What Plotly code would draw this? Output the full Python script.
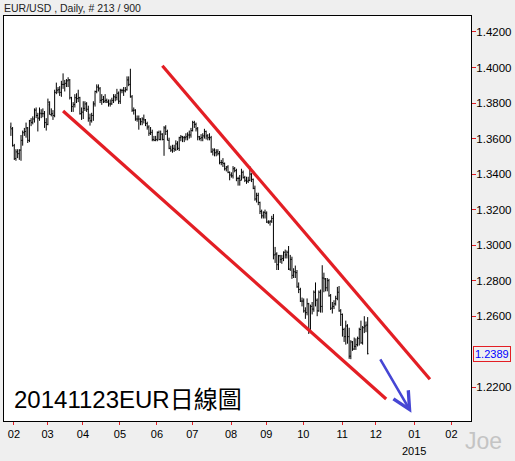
import numpy as np
import pandas as pd
import plotly.graph_objects as go

# ---------------- data ----------------
FIRST_DAY = "2014-01-29"
LAST_DAY = "2014-11-21"

opens = [
    1.3665, 1.3655, 1.3560,
    1.3488, 1.3525, 1.3515, 1.3535, 1.3590, 1.3632, 1.3640, 1.3660, 1.3590, 1.3700,
    1.3692, 1.3710, 1.3760, 1.3730, 1.3715, 1.3740, 1.3740, 1.3740, 1.3690, 1.3680,
    1.3790, 1.3735, 1.3740, 1.3730, 1.3860, 1.3872, 1.3875, 1.3860, 1.3905, 1.3905,
    1.3912, 1.3925, 1.3930, 1.3830, 1.3780, 1.3792, 1.3830, 1.3825, 1.3830, 1.3740, 1.3748,
    1.3770, 1.3795, 1.3765, 1.3715, 1.3702, 1.3730, 1.3795, 1.3865, 1.3890, 1.3880, 1.3815,
    1.3820, 1.3810, 1.3815, 1.3808, 1.3795, 1.3795, 1.3815, 1.3835, 1.3832, 1.3855, 1.3810,
    1.3870, 1.3870, 1.3868, 1.3875, 1.3930, 1.3905, 1.3835, 1.3758, 1.3760, 1.3710, 1.3710,
    1.3710, 1.3695, 1.3710, 1.3705, 1.3685, 1.3665, 1.3630, 1.3635, 1.3595, 1.3590, 1.3595,
    1.3635, 1.3595, 1.3625, 1.3595, 1.3660, 1.3640, 1.3590, 1.3545, 1.3535, 1.3545, 1.3540,
    1.3570, 1.3545, 1.3605, 1.3610, 1.3605, 1.3605, 1.3610, 1.3620, 1.3620, 1.3645,
    1.3690, 1.3680, 1.3655, 1.3610, 1.3600, 1.3605, 1.3615, 1.3640, 1.3615, 1.3605, 1.3605,
    1.3525, 1.3535, 1.3520, 1.3525, 1.3515, 1.3465, 1.3465, 1.3460, 1.3430, 1.3440, 1.3410, 1.3395,
    1.3390, 1.3430, 1.3420, 1.3375, 1.3375, 1.3365, 1.3410, 1.3380, 1.3365, 1.3360, 1.3365,
    1.3400, 1.3370, 1.3320, 1.3260, 1.3280, 1.3240, 1.3190, 1.3165, 1.3185, 1.3180,
    1.3130, 1.3130, 1.3135, 1.3150, 1.2945, 1.2950, 1.2890, 1.2940, 1.2920, 1.2925, 1.2960,
    1.2945, 1.2960, 1.2865, 1.2920, 1.2830, 1.2850, 1.2845, 1.2765, 1.2750, 1.2685, 1.2685,
    1.2630, 1.2620, 1.2670, 1.2515, 1.2655, 1.2640, 1.2735, 1.2690, 1.2630, 1.2735, 1.2655,
    1.2815, 1.2810, 1.2760, 1.2800, 1.2715, 1.2645, 1.2655, 1.2670, 1.2700, 1.2735, 1.2630, 1.2610,
    1.2525, 1.2485, 1.2545, 1.2485, 1.2375, 1.2455, 1.2415, 1.2430, 1.2440, 1.2475,
    1.2525, 1.2450, 1.2535, 1.2545, 1.2550,
]
highs = [
    1.3690, 1.3665, 1.3570,
    1.3540, 1.3540, 1.3540, 1.3620, 1.3645, 1.3660, 1.3690, 1.3665, 1.3705, 1.3715,
    1.3725, 1.3770, 1.3775, 1.3745, 1.3775, 1.3765, 1.3770, 1.3755, 1.3715, 1.3825,
    1.3810, 1.3770, 1.3760, 1.3875, 1.3915, 1.3890, 1.3895, 1.3925, 1.3967, 1.3930,
    1.3935, 1.3945, 1.3935, 1.3835, 1.3805, 1.3850, 1.3855, 1.3875, 1.3835, 1.3775, 1.3810,
    1.3810, 1.3805, 1.3785, 1.3740, 1.3745, 1.3810, 1.3870, 1.3905, 1.3905, 1.3890, 1.3850,
    1.3840, 1.3850, 1.3825, 1.3820, 1.3820, 1.3830, 1.3850, 1.3850, 1.3880, 1.3865, 1.3880,
    1.3880, 1.3890, 1.3890, 1.3950, 1.3950, 1.3993, 1.3845, 1.3775, 1.3765, 1.3730, 1.3730,
    1.3715, 1.3720, 1.3735, 1.3710, 1.3695, 1.3675, 1.3665, 1.3650, 1.3615, 1.3615, 1.3640,
    1.3645, 1.3645, 1.3630, 1.3670, 1.3675, 1.3650, 1.3605, 1.3560, 1.3565, 1.3565,
    1.3590, 1.3585, 1.3610, 1.3620, 1.3615, 1.3615, 1.3630, 1.3635, 1.3645, 1.3660, 1.3700,
    1.3700, 1.3690, 1.3665, 1.3615, 1.3625, 1.3630, 1.3655, 1.3645, 1.3625, 1.3630,
    1.3615, 1.3545, 1.3545, 1.3540, 1.3540, 1.3530, 1.3480, 1.3490, 1.3465, 1.3445, 1.3450, 1.3415, 1.3410,
    1.3445, 1.3440, 1.3430, 1.3385, 1.3395, 1.3430, 1.3420, 1.3390, 1.3385, 1.3385,
    1.3445, 1.3405, 1.3375, 1.3335, 1.3295, 1.3295, 1.3245, 1.3200, 1.3190, 1.3200, 1.3190,
    1.3140, 1.3140, 1.3165, 1.3175, 1.2990, 1.2960, 1.2945, 1.2945, 1.2945, 1.2965,
    1.2975, 1.2970, 1.2995, 1.2945, 1.2935, 1.2870, 1.2885, 1.2860, 1.2790, 1.2760, 1.2705, 1.2700,
    1.2650, 1.2700, 1.2675, 1.2665, 1.2680, 1.2745, 1.2790, 1.2700, 1.2745, 1.2750,
    1.2887, 1.2845, 1.2815, 1.2815, 1.2810, 1.2725, 1.2680, 1.2690, 1.2715, 1.2765, 1.2770, 1.2640, 1.2615,
    1.2535, 1.2575, 1.2555, 1.2535, 1.2465, 1.2460, 1.2480, 1.2475, 1.2485, 1.2535,
    1.2575, 1.2545, 1.2600, 1.2570, 1.2595,
]
lows = [
    1.3615, 1.3555, 1.3480,
    1.3475, 1.3490, 1.3480, 1.3475, 1.3560, 1.3615, 1.3605, 1.3575, 1.3580, 1.3670,
    1.3680, 1.3690, 1.3715, 1.3640, 1.3700, 1.3715, 1.3720, 1.3660, 1.3645, 1.3675,
    1.3735, 1.3725, 1.3705, 1.3720, 1.3850, 1.3855, 1.3840, 1.3835, 1.3880, 1.3865,
    1.3890, 1.3890, 1.3820, 1.3750, 1.3750, 1.3775, 1.3800, 1.3805, 1.3735, 1.3705, 1.3710,
    1.3755, 1.3750, 1.3695, 1.3673, 1.3690, 1.3700, 1.3780, 1.3855, 1.3865, 1.3800, 1.3790,
    1.3800, 1.3800, 1.3800, 1.3780, 1.3780, 1.3790, 1.3800, 1.3810, 1.3815, 1.3795, 1.3795,
    1.3855, 1.3840, 1.3860, 1.3870, 1.3895, 1.3830, 1.3750, 1.3735, 1.3700, 1.3695, 1.3650,
    1.3675, 1.3675, 1.3685, 1.3670, 1.3650, 1.3615, 1.3620, 1.3585, 1.3585, 1.3585, 1.3585,
    1.3590, 1.3590, 1.3590, 1.3503, 1.3620, 1.3590, 1.3540, 1.3525, 1.3520, 1.3525,
    1.3530, 1.3535, 1.3530, 1.3585, 1.3580, 1.3580, 1.3590, 1.3590, 1.3600, 1.3605, 1.3640,
    1.3660, 1.3640, 1.3590, 1.3590, 1.3585, 1.3585, 1.3600, 1.3595, 1.3590, 1.3590,
    1.3520, 1.3505, 1.3500, 1.3500, 1.3505, 1.3455, 1.3450, 1.3440, 1.3420, 1.3415, 1.3405, 1.3365, 1.3380,
    1.3375, 1.3410, 1.3360, 1.3335, 1.3335, 1.3365, 1.3375, 1.3355, 1.3345, 1.3350,
    1.3360, 1.3355, 1.3315, 1.3250, 1.3240, 1.3225, 1.3175, 1.3150, 1.3150, 1.3150, 1.3125,
    1.3120, 1.3110, 1.3125, 1.2920, 1.2900, 1.2860, 1.2860, 1.2900, 1.2895, 1.2910,
    1.2925, 1.2925, 1.2860, 1.2855, 1.2810, 1.2815, 1.2815, 1.2760, 1.2730, 1.2680, 1.2655, 1.2620,
    1.2585, 1.2605, 1.2500, 1.2505, 1.2610, 1.2625, 1.2655, 1.2600, 1.2625, 1.2620,
    1.2620, 1.2735, 1.2740, 1.2740, 1.2710, 1.2635, 1.2615, 1.2640, 1.2660, 1.2690, 1.2625, 1.2545, 1.2485,
    1.2455, 1.2440, 1.2445, 1.2360, 1.2358, 1.2405, 1.2410, 1.2410, 1.2430, 1.2435,
    1.2445, 1.2440, 1.2505, 1.2510, 1.2385,
]
closes = [
    1.3655, 1.3560, 1.3485,
    1.3525, 1.3515, 1.3535, 1.3590, 1.3635, 1.3640, 1.3660, 1.3590, 1.3700, 1.3690,
    1.3710, 1.3760, 1.3730, 1.3715, 1.3745, 1.3740, 1.3740, 1.3690, 1.3680, 1.3805,
    1.3735, 1.3740, 1.3730, 1.3860, 1.3875, 1.3875, 1.3860, 1.3905, 1.3905, 1.3910,
    1.3925, 1.3930, 1.3830, 1.3780, 1.3790, 1.3830, 1.3825, 1.3830, 1.3740, 1.3750, 1.3770,
    1.3795, 1.3765, 1.3715, 1.3700, 1.3730, 1.3795, 1.3865, 1.3890, 1.3885, 1.3815, 1.3820,
    1.3810, 1.3815, 1.3805, 1.3795, 1.3795, 1.3815, 1.3835, 1.3830, 1.3855, 1.3810, 1.3870,
    1.3870, 1.3870, 1.3875, 1.3930, 1.3905, 1.3835, 1.3760, 1.3760, 1.3710, 1.3710, 1.3710,
    1.3695, 1.3710, 1.3705, 1.3685, 1.3665, 1.3630, 1.3635, 1.3595, 1.3590, 1.3595, 1.3635,
    1.3595, 1.3625, 1.3595, 1.3660, 1.3640, 1.3590, 1.3545, 1.3535, 1.3545, 1.3540,
    1.3570, 1.3545, 1.3605, 1.3610, 1.3605, 1.3605, 1.3610, 1.3620, 1.3620, 1.3645, 1.3690,
    1.3680, 1.3655, 1.3610, 1.3600, 1.3605, 1.3615, 1.3640, 1.3615, 1.3605, 1.3605,
    1.3525, 1.3535, 1.3520, 1.3525, 1.3515, 1.3465, 1.3465, 1.3460, 1.3430, 1.3440, 1.3410, 1.3395, 1.3390,
    1.3430, 1.3420, 1.3375, 1.3375, 1.3365, 1.3410, 1.3380, 1.3365, 1.3360, 1.3365,
    1.3400, 1.3370, 1.3320, 1.3260, 1.3280, 1.3240, 1.3190, 1.3165, 1.3185, 1.3180, 1.3130,
    1.3130, 1.3135, 1.3150, 1.2945, 1.2950, 1.2890, 1.2940, 1.2920, 1.2925, 1.2960,
    1.2945, 1.2960, 1.2865, 1.2920, 1.2830, 1.2850, 1.2845, 1.2765, 1.2750, 1.2685, 1.2685, 1.2630,
    1.2620, 1.2670, 1.2515, 1.2655, 1.2640, 1.2735, 1.2690, 1.2630, 1.2735, 1.2655,
    1.2815, 1.2810, 1.2760, 1.2800, 1.2715, 1.2645, 1.2655, 1.2670, 1.2700, 1.2735, 1.2630, 1.2610, 1.2525,
    1.2485, 1.2545, 1.2485, 1.2375, 1.2455, 1.2415, 1.2430, 1.2440, 1.2475, 1.2525,
    1.2450, 1.2535, 1.2545, 1.2550, 1.2389,
]

month_starts = ["2014-02", "2014-03", "2014-04", "2014-05", "2014-06", "2014-07",
                "2014-08", "2014-09", "2014-10", "2014-11", "2014-12", "2015-01", "2015-02"]
month_labels = ["02", "03", "04", "05", "06", "07", "08", "09", "10", "11", "12", "01", "02"]
year_label = ("2015-01", "2015")
y_ticks = [1.22, 1.26, 1.28, 1.30, 1.32, 1.34, 1.36, 1.38, 1.40, 1.42]
last_price = 1.2389

title_text = "EUR/USD , Daily, # 213 / 900"
caption_text = "20141123EUR日線圖"
watermark_text = "Joe"

upper_channel = [("2014-06-04", 1.4010), ("2015-01-13", 1.2245)]
lower_channel = [("2014-03-13", 1.3755), ("2014-12-08", 1.2134)]
arrow_tail = ("2014-12-02", 1.2365)
arrow_tip = ("2014-12-29", 1.2057)

# ---------------- helpers ----------------
def bidx(d):
    return int(np.busday_count(FIRST_DAY, np.datetime64(d, "D")))

dates = pd.bdate_range(FIRST_DAY, LAST_DAY).strftime("%Y-%m-%d")
assert len(dates) == len(opens) == len(highs) == len(lows) == len(closes)
x = [bidx(d) for d in dates]

TICK_SHIFT = -1.2
def month_pos(m):
    first = np.busday_offset(np.datetime64(m + "-01", "D"), 0, roll="forward")
    return bidx(first) + TICK_SHIFT

tick_x = [month_pos(m) for m in month_starts]

RED = "#e31e24"
BLUE = "#4646d4"
FONT = "Liberation Sans, Arial, sans-serif"

fig = go.Figure()
fig.add_trace(go.Ohlc(
    x=x, open=opens, high=highs, low=lows, close=closes,
    increasing=dict(line=dict(color="black", width=1)),
    decreasing=dict(line=dict(color="black", width=1)),
    tickwidth=0.5, hoverinfo="skip", showlegend=False,
))

shapes = []
for seg in (upper_channel, lower_channel):
    (d0, p0), (d1, p1) = seg
    shapes.append(dict(type="line", xref="x", yref="y", x0=bidx(d0), y0=p0,
                       x1=bidx(d1), y1=p1, line=dict(color=RED, width=3.2)))

annotations = [
    dict(text=title_text, xref="paper", yref="paper", x=0, y=1.0198, xanchor="left",
         yanchor="middle", xshift=-2, showarrow=False, font=dict(family=FONT, size=10.5, color="#222")),
    dict(text=caption_text, xref="paper", yref="paper", x=0.0214, y=0.052, xanchor="left",
         yanchor="middle", xshift=-2, showarrow=False,
         font=dict(family="Liberation Sans, Noto Sans CJK TC, sans-serif", size=24, color="black")),
    dict(text=watermark_text, xref="paper", yref="paper", x=1.0257, y=-0.049, xanchor="center",
         yanchor="middle", showarrow=False, font=dict(family=FONT, size=23, color="#c4c4c4")),
    dict(text=year_label[1], xref="x", yref="paper", x=month_pos(year_label[0]), y=-0.074,
         xanchor="center", yanchor="middle", showarrow=False, font=dict(family=FONT, size=11, color="black")),
    dict(text=f"{last_price:.4f}", xref="paper", yref="y", x=1.004, y=last_price, xanchor="left",
         yanchor="middle", showarrow=False, bordercolor=RED, borderwidth=1, borderpad=1,
         font=dict(family=FONT, size=11, color="#0000ff")),
    dict(text="", xref="x", yref="y", x=bidx(arrow_tip[0]), y=arrow_tip[1],
         axref="x", ayref="y", ax=bidx(arrow_tail[0]), ay=arrow_tail[1],
         showarrow=True, arrowhead=5, arrowwidth=2.6, arrowsize=1.3, arrowcolor=BLUE),
]

fig.update_layout(
    width=515, height=461,
    margin=dict(l=4, r=44, t=16, b=40),
    paper_bgcolor="#efefef", plot_bgcolor="white",
    font=dict(family=FONT, size=11, color="black"),
    shapes=shapes, annotations=annotations,
    showlegend=False,
    xaxis=dict(range=[-4.1, 273.4], tickvals=tick_x, ticktext=month_labels,
               ticks="outside", ticklen=3, tickcolor=RED, showgrid=False, zeroline=False,
               showline=True, linecolor="black", linewidth=1, mirror=True,
               rangeslider=dict(visible=False), tickfont=dict(family=FONT, size=11, color="black")),
    yaxis=dict(range=[1.2010, 1.4290], side="right", tickvals=y_ticks, tickformat=".4f",
               ticks="outside", ticklen=4, tickcolor=RED, showgrid=False, zeroline=False,
               showline=True, linecolor="black", linewidth=1, mirror=True,
               ticklabelstandoff=-2,
               tickfont=dict(family=FONT, size=11.5, color="black")),
)

fig.write_html(
    "out.html",
    config={"displayModeBar": False, "staticPlot": True},
    post_script="document.body.style.margin='0';document.body.style.overflow='hidden';",
)
